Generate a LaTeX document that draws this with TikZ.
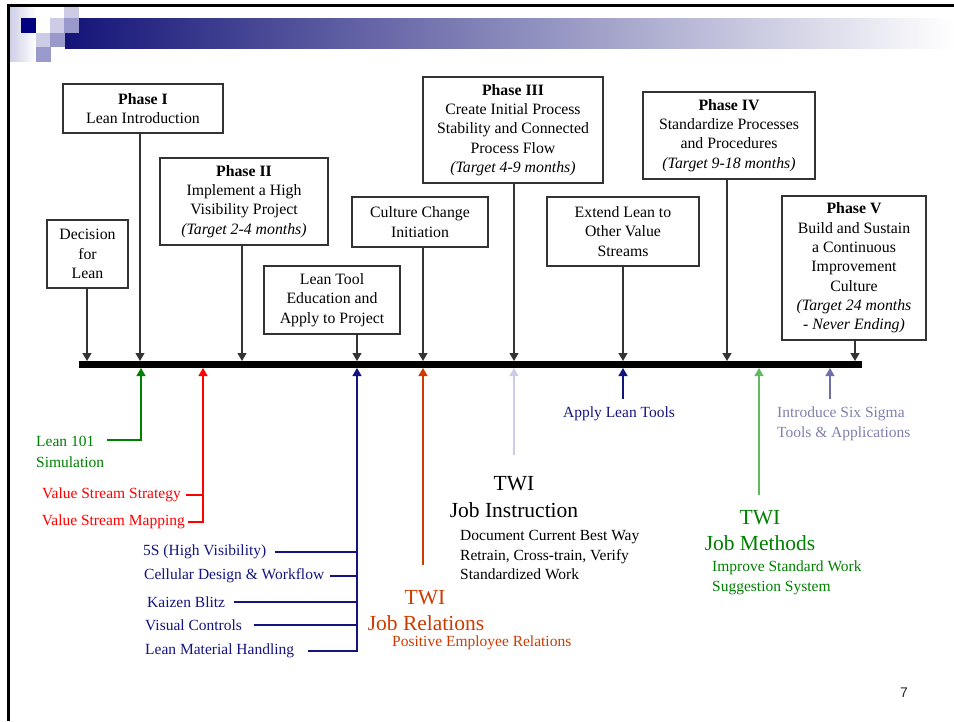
\documentclass[tikz,border=0pt]{standalone}
\usepackage{fontspec}
\setmainfont{Liberation Serif}
\newfontfamily\slidesans{Liberation Sans}
\usetikzlibrary{arrows.meta}
\definecolor{bannernavy}{RGB}{20,20,120}
\definecolor{squarenavy}{RGB}{0,0,128}
\definecolor{squarelight}{RGB}{204,204,230}
\definecolor{squaremid}{RGB}{153,153,204}
\definecolor{leangreen}{RGB}{0,128,0}
\definecolor{methodgreen}{RGB}{100,185,100}
\definecolor{streamred}{RGB}{255,0,0}
\definecolor{toolnavy}{RGB}{20,20,128}
\definecolor{relorange}{RGB}{204,60,0}
\definecolor{instlav}{RGB}{204,204,232}
\definecolor{sigmablue}{RGB}{112,112,168}
\definecolor{sigmatext}{RGB}{128,128,176}

\begin{document}
\begin{tikzpicture}[x=1pt, y=-1pt,
    phasebox/.style={rectangle, draw=black!80, line width=1.3pt, fill=white, inner sep=0pt, align=center, font=\fontsize{15.8}{19.3}\selectfont},
    downlink/.style={-{Triangle[length=8pt,width=9pt]}, line width=1.2pt, black!80},
    uplink/.style={-{Triangle[length=8pt,width=9pt]}, line width=1.2pt},
    textline/.style={inner sep=0pt, align=left, font=\fontsize{15.5}{19.8}\selectfont},
    twititle/.style={inner sep=0pt, align=center, font=\fontsize{21.5}{25}\selectfont}
]
    \useasboundingbox (0,0) rectangle (954,721);

    % slide frame and banner
    \shade[left color=bannernavy, right color=white] (65,18) rectangle (954,48);
    \shade[left color=squarelight, right color=white] (9,6) rectangle (36,61);
    \fill[squarenavy] (21,18) rectangle (36,33);
    \fill[squarelight] (50,18) rectangle (64,33);
    \fill[squarelight] (36,33) rectangle (50,47);
    \fill[squarelight] (64,5) rectangle (79,18);
    \fill[squaremid] (64,18) rectangle (79,33);
    \fill[squaremid] (50,33) rectangle (65,47);
    \fill[squaremid] (36,47) rectangle (51,62);
    \draw[line width=3pt] (8,721) -- (8,5) -- (954,5);

    % phases and steps
    \node[phasebox, minimum width=81, minimum height=68] (decision) at (87.5,254) {Decision\\for\\Lean};
    \node[phasebox, minimum width=160, minimum height=49] (phaseI) at (143,108.5) {\textbf{Phase I}\\Lean Introduction};
    \node[phasebox, minimum width=168, minimum height=87] (phaseII) at (244,201.5) {\textbf{Phase II}\\Implement a High\\Visibility Project\\\textit{(Target 2-4 months)}};
    \node[phasebox, minimum width=136, minimum height=68] (leantool) at (332,300) {Lean Tool\\Education and\\Apply to Project};
    \node[phasebox, minimum width=136, minimum height=50] (culture) at (420,222) {Culture Change\\Initiation};
    \node[phasebox, minimum width=180, minimum height=106] (phaseIII) at (513,130) {\textbf{Phase III}\\Create Initial Process\\Stability and Connected\\Process Flow\\\textit{(Target 4-9 months)}};
    \node[phasebox, minimum width=152, minimum height=69] (extend) at (623,231.5) {Extend Lean to\\Other Value\\Streams};
    \node[phasebox, minimum width=172, minimum height=87] (phaseIV) at (729,135.5) {\textbf{Phase IV}\\Standardize Processes\\and Procedures\\\textit{(Target 9-18 months)}};
    \node[phasebox, minimum width=144, minimum height=144] (phaseV) at (854,268) {\textbf{Phase V}\\Build and Sustain\\a Continuous\\Improvement\\Culture\\\textit{(Target 24 months}\\\textit{- Never Ending)}};

    % timeline
    \coordinate (barstart) at (79,364);
    \coordinate (barend) at (862,364);
    \draw[line width=7pt] (barstart) -- (barend);

    % marks on top of the bar
    \coordinate (m-decision) at (87,361);
    \coordinate (m-phaseI) at (140,361);
    \coordinate (m-phaseII) at (242,361);
    \coordinate (m-leantool) at (357,361);
    \coordinate (m-culture) at (423,361);
    \coordinate (m-phaseIII) at (514,361);
    \coordinate (m-extend) at (623,361);
    \coordinate (m-phaseIV) at (727,361);
    \coordinate (m-phaseV) at (855,361);
    \foreach \p in {decision,phaseI,phaseII,leantool,culture,phaseIII,extend,phaseIV,phaseV}
        \draw[downlink] (\p.south -| m-\p) -- (m-\p);

    % marks below the bar
    \coordinate (u-lean) at (141,368);
    \coordinate (u-stream) at (203,368);
    \coordinate (u-tools) at (357,368);
    \coordinate (u-rel) at (423,368);
    \coordinate (u-inst) at (514,368);
    \coordinate (u-apply) at (623,368);
    \coordinate (u-meth) at (759,368);
    \coordinate (u-sigma) at (830,368);

    % Lean 101
    \node[textline, text=leangreen, anchor=west, font=\fontsize{15.5}{21}\selectfont] (lean101) at (36,452) {Lean 101\\Simulation};
    \coordinate (lean101end) at (107,440);
    \draw[uplink, leangreen] (lean101end) -| (u-lean);

    % value stream
    \node[textline, text=streamred, anchor=east, inner xsep=5pt] (vss) at (186,495) {Value Stream Strategy};
    \node[textline, text=streamred, anchor=east, inner xsep=3pt] (vsm) at (188,522) {Value Stream Mapping};
    \draw[uplink, streamred] (vsm.east) -| (u-stream);
    \draw[streamred, line width=1.2pt] (vss.east) -- (vss.east -| u-stream);

    % lean tools
    \node[textline, text=toolnavy, anchor=west, inner xsep=9pt] (fives) at (134,552) {5S (High Visibility)};
    \node[textline, text=toolnavy, anchor=west, inner xsep=6pt] (cellular) at (138,576) {Cellular Design \& Workflow};
    \node[textline, text=toolnavy, anchor=west, inner xsep=9pt] (kaizen) at (138,602) {Kaizen Blitz};
    \node[textline, text=toolnavy, anchor=west, inner xsep=12pt] (visual) at (133,625) {Visual Controls};
    \node[textline, text=toolnavy, anchor=west, inner xsep=14pt] (lmh) at (131,651) {Lean Material Handling};
    \draw[uplink, toolnavy] (lmh.east) -| (u-tools);
    \foreach \t in {fives,cellular,kaizen,visual}
        \draw[toolnavy, line width=1.2pt] (\t.east) -- (\t.east -| u-tools);

    % TWI job relations
    \node[twititle, text=relorange] (twirel) at (425,598) {TWI};
    \node[twititle, text=relorange] (jobrel) at (426,623) {Job Relations};
    \node[textline, text=relorange, anchor=west] (relnote) at (392,643) {Positive Employee Relations};
    \coordinate (relend) at (423,565);
    \draw[uplink, relorange] (relend) -- (u-rel);

    % TWI job instruction
    \node[twititle] (twiinst) at (514,484) {TWI};
    \node[twititle] (jobinst) at (514,510) {Job Instruction};
    \node[textline, anchor=west, font=\fontsize{15.5}{19.5}\selectfont] (instnote) at (460,555) {Document Current Best Way\\Retrain, Cross-train, Verify\\Standardized Work};
    \coordinate (instend) at (514,455);
    \draw[uplink, instlav] (instend) -- (u-inst);

    % apply lean tools
    \node[textline, text=toolnavy] (apply) at (619,414) {Apply Lean Tools};
    \coordinate (applyend) at (623,399);
    \draw[uplink, toolnavy] (applyend) -- (u-apply);

    % TWI job methods
    \node[twititle, text=leangreen] (twimeth) at (760,518) {TWI};
    \node[twititle, text=leangreen] (jobmeth) at (760,543) {Job Methods};
    \node[textline, text=leangreen, anchor=west] (methnote) at (712,578) {Improve Standard Work\\Suggestion System};
    \coordinate (methend) at (759,495);
    \draw[uplink, methodgreen] (methend) -- (u-meth);

    % six sigma
    \node[textline, text=sigmatext, anchor=west, font=\fontsize{15.5}{20}\selectfont] (sigma) at (777,424) {Introduce Six Sigma\\Tools \& Applications};
    \coordinate (sigmaend) at (830,399);
    \draw[uplink, sigmablue] (sigmaend) -- (u-sigma);

    \node[font=\slidesans\fontsize{14}{16}\selectfont, text=black!85] (pagenum) at (904,693) {7};
\end{tikzpicture}
\end{document}
